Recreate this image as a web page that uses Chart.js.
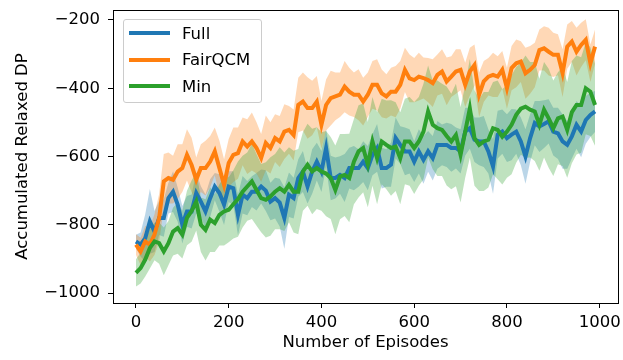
<!DOCTYPE html>
<html lang="en">
<head>
  <meta charset="UTF-8">
  <title>Accumulated Relaxed DP</title>
  <script src="https://cdn.jsdelivr.net/npm/chart.js"></script>
  <style>
    body { margin: 0; background: #fff; }
    .wrap { position: relative; width: 623px; height: 360px; }
    .legend {
      position: absolute; left: 123px; top: 19px; width: 139px; height: 84px;
      border: 1px solid #cccccc; border-radius: 3px; background: rgba(255,255,255,0.8);
      font-family: "DejaVu Sans", sans-serif; font-size: 16.5px; color: #000;
      box-sizing: border-box;
    }
    .legend .item { position: absolute; left: 5px; height: 20px; display: flex; align-items: center; }
    .legend .swatch { width: 41px; height: 4px; margin-right: 12px; }
  </style>
</head>
<body>
  <div class="wrap">
    <canvas id="chart" width="623" height="360"></canvas>
    <div class="legend" id="legend"></div>
  </div>

  <script>
    // episodes 0..990, every 10
    const episodes = [0,10,20,30,40,50,60,70,80,90,100,110,120,130,140,150,160,170,180,190,200,210,220,230,240,250,260,270,280,290,300,310,320,330,340,350,360,370,380,390,400,410,420,430,440,450,460,470,480,490,500,510,520,530,540,550,560,570,580,590,600,610,620,630,640,650,660,670,680,690,700,710,720,730,740,750,760,770,780,790,800,810,820,830,840,850,860,870,880,890,900,910,920,930,940,950,960,970,980,990];

    const seriesNames = ["Full", "FairQCM", "Min"];
    const seriesColors = ["#1f77b4", "#ff7f0e", "#2ca02c"];

    // mean curves
    const fullMean = [-849,-858,-839,-790,-820,-780,-780,-722,-703,-741,-800,-761,-761,-707,-732,-761,-722,-688,-707,-741,-688,-693,-771,-712,-722,-703,-703,-688,-700,-732,-722,-735,-780,-712,-722,-663,-644,-688,-644,-615,-644,-575,-663,-663,-654,-663,-634,-634,-634,-615,-634,-595,-575,-634,-634,-624,-546,-566,-585,-585,-615,-585,-610,-585,-605,-566,-566,-566,-575,-575,-585,-527,-517,-551,-556,-556,-585,-629,-536,-527,-546,-536,-527,-556,-600,-546,-502,-512,-505,-497,-527,-532,-556,-566,-541,-507,-527,-493,-478,-468];
    const fairMean = [-858,-878,-849,-858,-829,-780,-673,-663,-668,-644,-634,-595,-625,-668,-634,-634,-615,-585,-634,-683,-619,-595,-590,-556,-571,-556,-575,-604,-560,-575,-546,-556,-527,-522,-537,-449,-439,-458,-458,-439,-507,-449,-429,-424,-419,-395,-410,-419,-419,-439,-419,-390,-390,-415,-424,-410,-410,-390,-346,-371,-376,-366,-370,-376,-385,-361,-351,-380,-366,-351,-346,-390,-351,-332,-419,-380,-366,-361,-366,-346,-400,-341,-327,-322,-356,-346,-332,-288,-283,-293,-302,-302,-356,-278,-263,-293,-273,-258,-327,-278];
    const minMean = [-941,-927,-902,-868,-849,-854,-878,-854,-820,-810,-829,-780,-760,-732,-800,-815,-785,-795,-771,-761,-756,-740,-725,-703,-688,-673,-698,-722,-727,-717,-703,-693,-703,-683,-703,-703,-644,-624,-644,-634,-644,-650,-663,-698,-659,-654,-663,-615,-585,-575,-624,-556,-605,-556,-566,-575,-571,-605,-556,-556,-575,-556,-527,-468,-507,-517,-522,-540,-556,-537,-595,-527,-459,-546,-566,-556,-551,-517,-522,-542,-527,-507,-478,-460,-454,-463,-468,-507,-463,-488,-517,-488,-483,-522,-470,-449,-449,-400,-410,-449];

    // half-width of the shaded band around each mean
    const fullSpread = [20,35,70,95,60,50,55,45,60,50,55,45,50,60,45,50,55,40,55,60,45,50,60,55,50,45,55,50,60,55,60,70,90,65,60,55,60,50,65,55,60,55,65,60,55,70,60,65,55,60,65,60,70,60,55,65,60,55,70,65,60,65,70,60,65,70,60,65,70,60,65,70,60,65,70,75,65,80,70,65,70,75,65,70,80,70,65,75,70,65,70,75,80,70,65,70,75,70,65,60];
    const fairSpread = [30,40,45,50,60,70,80,75,70,80,70,75,80,65,70,80,75,70,80,75,70,80,75,70,80,85,75,70,80,75,70,75,80,70,75,80,85,90,80,75,70,75,80,70,65,75,70,65,75,70,65,70,75,70,65,70,75,70,65,70,65,70,60,65,70,60,65,70,60,65,60,65,70,60,65,60,55,65,60,55,60,65,70,60,75,70,65,60,65,70,65,60,70,65,60,70,65,60,55,50];
    const minSpread = [40,45,50,60,55,60,70,65,70,75,70,80,90,85,80,90,95,85,90,100,95,100,110,105,100,110,105,100,110,115,110,120,115,110,120,125,115,120,125,120,115,125,120,130,125,120,130,125,135,130,125,130,135,125,130,140,130,135,125,130,135,130,140,135,130,140,135,145,140,150,140,135,145,140,135,145,140,135,145,140,135,145,140,135,150,140,145,135,140,145,140,135,145,140,150,145,140,135,130,120];

    const xTicks = [0, 200, 400, 600, 800, 1000];
    const yTicks = [-1000, -800, -600, -400, -200];

    const means = [fullMean, fairMean, minMean];
    const spreads = [fullSpread, fairSpread, minSpread];

    function toPoints(arr) {
      return episodes.map((x, i) => ({ x: x, y: arr[i] }));
    }
    function hexToRgba(hex, a) {
      const n = parseInt(hex.slice(1), 16);
      return `rgba(${(n >> 16) & 255}, ${(n >> 8) & 255}, ${n & 255}, ${a})`;
    }

    const datasets = [];
    // mean lines (drawn on top; green last like matplotlib)
    seriesNames.forEach((name, s) => {
      datasets.push({
        label: name,
        data: toPoints(means[s]),
        borderColor: seriesColors[s],
        borderWidth: 4,
        pointRadius: 0,
        tension: 0,
        fill: false,
        order: 2 - s,
      });
    });
    // shaded bands: upper fills down to lower
    seriesNames.forEach((name, s) => {
      const upperIndex = datasets.length;
      datasets.push({
        label: name + " upper",
        data: toPoints(means[s].map((v, i) => v + spreads[s][i])),
        borderWidth: 0,
        pointRadius: 0,
        tension: 0,
        backgroundColor: hexToRgba(seriesColors[s], 0.3),
        fill: upperIndex + 1,
        order: 5 - s,
      });
      datasets.push({
        label: name + " lower",
        data: toPoints(means[s].map((v, i) => v - spreads[s][i])),
        borderWidth: 0,
        pointRadius: 0,
        tension: 0,
        fill: false,
        order: 5 - s,
      });
    });

    const font = { family: "DejaVu Sans", size: 16.5 };

    const framePlugin = {
      id: "frame",
      afterDraw(chart) {
        const a = chart.chartArea;
        const ctx = chart.ctx;
        ctx.save();
        ctx.strokeStyle = "#000";
        ctx.lineWidth = 1;
        ctx.strokeRect(a.left + 0.5, a.top + 0.5, a.right - a.left, a.bottom - a.top);
        ctx.restore();
      }
    };

    new Chart(document.getElementById("chart").getContext("2d"), {
      type: "line",
      data: { datasets: datasets },
      options: {
        responsive: false,
        animation: false,
        devicePixelRatio: 1,
        layout: { padding: { left: 0, right: 5, top: 10, bottom: 0 } },
        plugins: { legend: { display: false }, tooltip: { enabled: false } },
        scales: {
          x: {
            type: "linear",
            min: -49.5,
            max: 1039.5,
            afterBuildTicks: (scale) => { scale.ticks = xTicks.map(v => ({ value: v })); },
            afterFit: (scale) => { scale.height = 57; scale.paddingLeft = 0; scale.paddingRight = 0; },
            grid: { drawOnChartArea: false, tickLength: 5, color: "#000", tickWidth: 1 },
            border: { display: false },
            ticks: { color: "#000", font: font, padding: 5, maxRotation: 0, callback: (v) => String(v) },
            title: { display: true, text: "Number of Episodes", color: "#000", font: font, padding: { top: 0, bottom: 7 } },
          },
          y: {
            min: -1029.3,
            max: -170.7,
            afterBuildTicks: (scale) => { scale.ticks = yTicks.map(v => ({ value: v })); },
            afterFit: (scale) => { scale.width = 113; scale.paddingTop = 0; scale.paddingBottom = 0; },
            grid: { drawOnChartArea: false, tickLength: 5, color: "#000", tickWidth: 1 },
            border: { display: false },
            ticks: {
              color: "#000", font: font, padding: 8,
              callback: (v) => (v < 0 ? "\u2212" + Math.abs(v) : String(v)),
            },
            title: { display: true, text: "Accumulated Relaxed DP", color: "#000", font: font, padding: { top: 13, bottom: 0 } },
          },
        },
      },
      plugins: [framePlugin],
    });

    // legend box in the upper-left corner, matplotlib style
    const legend = document.getElementById("legend");
    seriesNames.forEach((name, s) => {
      const item = document.createElement("div");
      item.className = "item";
      item.style.top = (3 + s * 26.5) + "px";
      item.innerHTML = `<span class="swatch" style="background:${seriesColors[s]}"></span><span>${name}</span>`;
      legend.appendChild(item);
    });
  </script>
</body>
</html>
